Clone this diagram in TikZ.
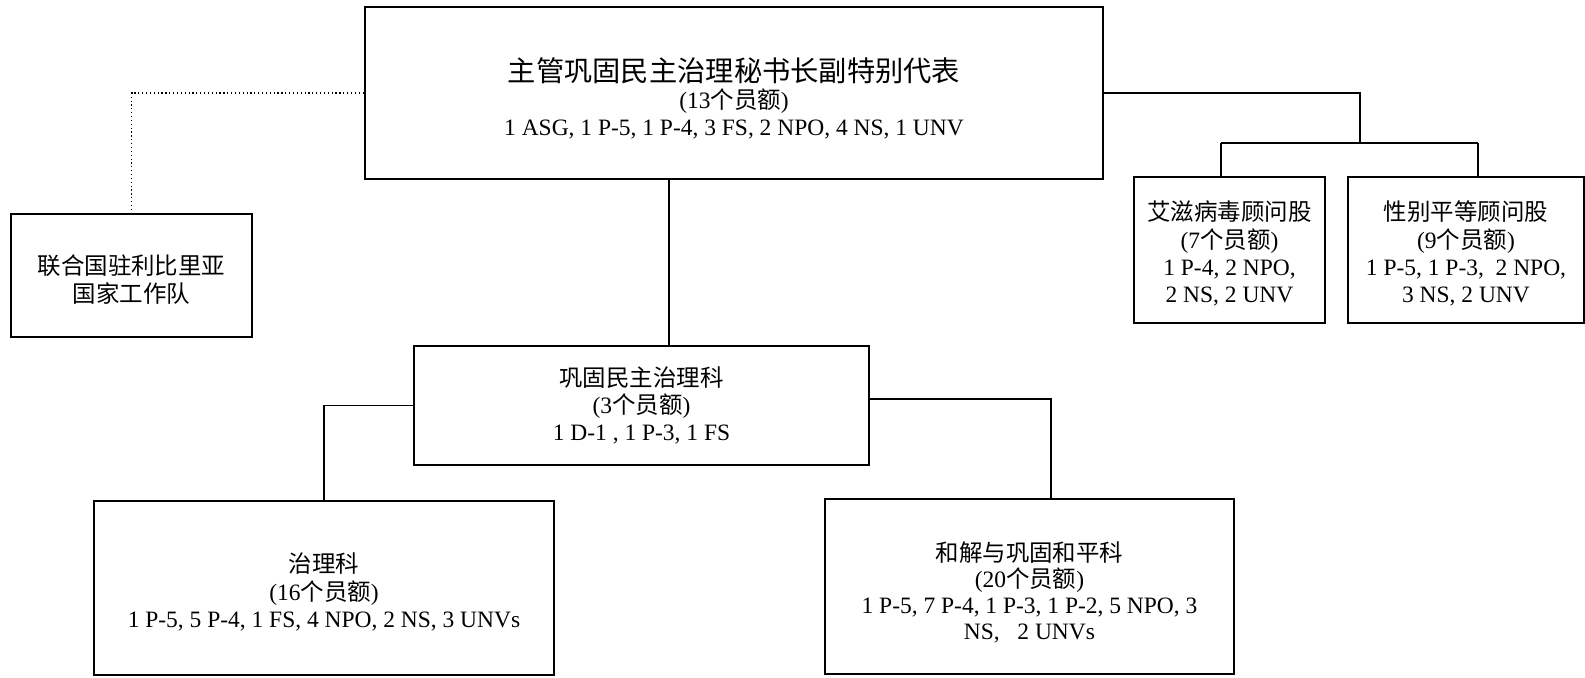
\documentclass[tikz,border=0pt]{standalone}
\usepackage{fontspec}
\setmainfont{Liberation Serif}
\newfontfamily\cjk{Noto Sans CJK SC}
\newcommand\tstr[1]{\rule{0pt}{#1}}
\begin{document}
\begin{tikzpicture}[x=0.75pt,y=-0.75pt,
  box/.style={draw=black,line width=1pt,inner sep=0pt,align=center,
    font=\fontsize{17.6}{20.5}\selectfont},
  thickbox/.style={box,line width=1.9pt},
  midbox/.style={box,line width=1.5pt},
  conn/.style={draw=black,line width=1pt},
  dotconn/.style={draw=black,line width=0.9pt,dotted}]
\useasboundingbox (0,0) rectangle (1585,678);

\node[thickbox,minimum width=553.5pt,minimum height=129pt] (top) at (734,93)
  {\tstr{26pt}{\fontsize{21.2}{23}\selectfont\cjk 主管巩固民主治理秘书长副特别代表}\\
   (13{\cjk 个员额})\\
   1 ASG, 1 P-5, 1 P-4, 3 FS, 2 NPO, 4 NS, 1 UNV};

\node[box,minimum width=180.75pt,minimum height=92.25pt] (left) at (131.5,275.5)
  {\tstr{20.7pt}{\cjk 联合国驻利比里亚}\\[1pt]{\cjk 国家工作队}};

\node[box,minimum width=143.25pt,minimum height=109.5pt] (aids) at (1229.5,250)
  {\tstr{20.5pt}{\cjk 艾滋病毒顾问股}\\(7{\cjk 个员额})\\1 P-4, 2 NPO,\\2 NS, 2 UNV};

\node[box,minimum width=177pt,minimum height=109.5pt] (gender) at (1466,250)
  {\tstr{20.5pt}{\cjk 性别平等顾问股}\\(9{\cjk 个员额})\\1 P-5, 1 P-3,\ \ 2 NPO,\\3 NS, 2 UNV};

\node[box,minimum width=341.25pt,minimum height=89.25pt] (mid) at (641.5,405.5)
  {{\cjk 巩固民主治理科}\\(3{\cjk 个员额})\\1 D-1 , 1 P-3, 1 FS};

\node[midbox,minimum width=345pt,minimum height=130.5pt] (bl) at (324,588)
  {\tstr{21pt}{\cjk 治理科}\\(16{\cjk 个员额})\\1 P-5, 5 P-4, 1 FS, 4 NPO, 2 NS, 3 UNVs};

\node[midbox,minimum width=306.75pt,minimum height=131.25pt,
  font=\fontsize{17.6}{19.6}\selectfont] (br) at (1029.5,586.5)
  {\tstr{24pt}{\cjk 和解与巩固和平科}\\(20{\cjk 个员额})\\1 P-5, 7 P-4, 1 P-3, 1 P-2, 5 NPO, 3\\NS,\hspace{0.75em}2 UNVs};

\coordinate (c1) at (669,260);
\coordinate (j1) at (1360,143);
\coordinate (ja) at (1221,143);
\coordinate (jg) at (1478,143);
\coordinate (jr) at (1051,399);

\draw[dotconn] (top.west) -| (left.north);
\draw[conn] (top.south -| c1) -- (mid.north -| c1);
\draw[conn] (top.east) -| (j1);
\draw[conn] (ja) -- (jg);
\draw[conn] (ja) -- (ja |- aids.north);
\draw[conn] (jg) -- (jg |- gender.north);
\draw[conn] (mid.west) -| (bl.north);
\draw[conn] (mid.east |- jr) -- (jr) -- (jr |- br.north);
\end{tikzpicture}
\end{document}
